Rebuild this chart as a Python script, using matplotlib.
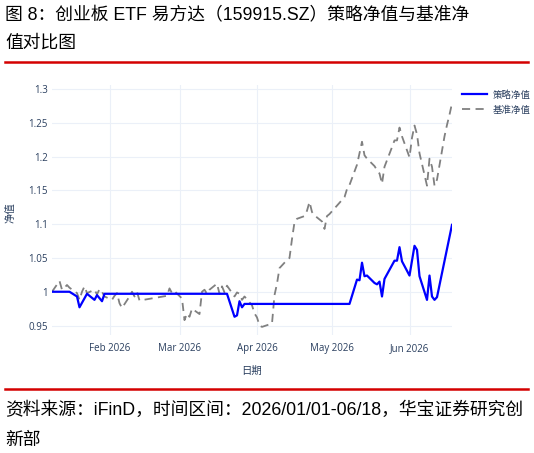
import numpy as np
import pandas as pd
import matplotlib
matplotlib.use("Agg")
from matplotlib import pyplot as plt
import matplotlib.dates as mdates

plt.rcParams['font.family'] = ['Open Sans', 'Noto Sans CJK SC', 'DejaVu Sans']

# strategy NAV (vertices)
strategy_dates = ["2026-01-09", "2026-01-16", "2026-01-19", "2026-01-20", "2026-01-23",
                  "2026-01-26", "2026-01-27", "2026-01-29", "2026-01-30", "2026-03-20",
                  "2026-03-23", "2026-03-24", "2026-03-25", "2026-03-26", "2026-03-27",
                  "2026-05-08", "2026-05-11", "2026-05-12", "2026-05-13", "2026-05-14",
                  "2026-05-15", "2026-05-18", "2026-05-19", "2026-05-20", "2026-05-21",
                  "2026-05-22", "2026-05-26", "2026-05-27", "2026-05-28", "2026-05-29",
                  "2026-06-01", "2026-06-03", "2026-06-04", "2026-06-05", "2026-06-08",
                  "2026-06-09", "2026-06-10", "2026-06-11", "2026-06-12", "2026-06-18"]
strategy_nav = [1.000, 1.000, 0.993, 0.977, 0.997,
                0.988, 0.995, 0.986, 0.997, 0.997,
                0.963, 0.965, 0.986, 0.977, 0.982,
                0.982, 1.018, 1.017, 1.043, 1.023,
                1.024, 1.013, 1.011, 1.015, 0.993,
                1.019, 1.046, 1.046, 1.066, 1.045,
                1.024, 1.068, 1.062, 1.023, 0.988,
                1.024, 0.993, 0.988, 0.992, 1.099]

# benchmark NAV
bench_dates = ["2026-01-09", "2026-01-12", "2026-01-13", "2026-01-14", "2026-01-15",
               "2026-01-16", "2026-01-19", "2026-01-20", "2026-01-21", "2026-01-22",
               "2026-01-23", "2026-01-26", "2026-01-27", "2026-01-28", "2026-01-29",
               "2026-01-30", "2026-02-02", "2026-02-03", "2026-02-04", "2026-02-05",
               "2026-02-06", "2026-02-09", "2026-02-10", "2026-02-11", "2026-02-12",
               "2026-02-13", "2026-02-24", "2026-02-25", "2026-02-26", "2026-02-27",
               "2026-03-02", "2026-03-03", "2026-03-04", "2026-03-05", "2026-03-06",
               "2026-03-09", "2026-03-10", "2026-03-11", "2026-03-12", "2026-03-13",
               "2026-03-16", "2026-03-17", "2026-03-18", "2026-03-19", "2026-03-20",
               "2026-03-23", "2026-03-24", "2026-03-25", "2026-03-26", "2026-03-27",
               "2026-03-30", "2026-03-31", "2026-04-01", "2026-04-02", "2026-04-03",
               "2026-04-07", "2026-04-08", "2026-04-09", "2026-04-10", "2026-04-13",
               "2026-04-14", "2026-04-15", "2026-04-16", "2026-04-17", "2026-04-20",
               "2026-04-21", "2026-04-22", "2026-04-23", "2026-04-24", "2026-04-27",
               "2026-04-28", "2026-04-29", "2026-04-30", "2026-05-06", "2026-05-07",
               "2026-05-08", "2026-05-11", "2026-05-12", "2026-05-13", "2026-05-14",
               "2026-05-15", "2026-05-18", "2026-05-19", "2026-05-20", "2026-05-21",
               "2026-05-22", "2026-05-25", "2026-05-26", "2026-05-27", "2026-05-28",
               "2026-05-29", "2026-06-01", "2026-06-02", "2026-06-03", "2026-06-04",
               "2026-06-05", "2026-06-08", "2026-06-09", "2026-06-10", "2026-06-11",
               "2026-06-12", "2026-06-15", "2026-06-16", "2026-06-17", "2026-06-18"]
bench_nav = [1.000, 1.016, 1.003, 1.006, 1.010,
             1.006, 0.998, 0.988, 1.000, 1.008,
             0.998, 1.003, 0.996, 1.004, 1.000,
             0.993, 0.988, 0.994, 0.998, 0.983,
             0.976, 0.993, 1.000, 0.993, 1.000,
             0.987, 0.994, 1.005, 0.998, 1.001,
             0.990, 0.958, 0.968, 0.963, 0.975,
             0.967, 1.000, 1.003, 0.997, 1.003,
             1.012, 0.997, 1.008, 0.999, 1.009,
             0.993, 0.999, 0.997, 0.988, 0.993,
             0.980, 0.968, 0.962, 0.950, 0.948,
             0.953, 0.995, 1.012, 1.035, 1.047,
             1.050, 1.078, 1.103, 1.108, 1.112,
             1.120, 1.133, 1.118, 1.113, 1.104,
             1.093, 1.112, 1.115, 1.140, 1.152,
             1.158, 1.188, 1.205, 1.222, 1.202,
             1.197, 1.186, 1.180, 1.175, 1.160,
             1.185, 1.214, 1.224, 1.224, 1.243,
             1.230, 1.199, 1.228, 1.246, 1.233,
             1.205, 1.157, 1.197, 1.185, 1.157,
             1.166, 1.230, 1.247, 1.262, 1.279]

y_ticks = [0.95, 1.0, 1.05, 1.1, 1.15, 1.2, 1.25, 1.3]
y_tick_labels = ["0.95", "1", "1.05", "1.1", "1.15", "1.2", "1.25", "1.3"]
x_ticks = ["2026-02-01", "2026-03-01", "2026-04-01", "2026-05-01", "2026-06-01"]
x_tick_labels = ["Feb 2026", "Mar 2026", "Apr 2026", "May 2026", "Jun 2026"]

title_lines = ["图 8：创业板 ETF 易方达（159915.SZ）策略净值与基准净", "值对比图"]
source_lines = ["资料来源：iFinD，时间区间：2026/01/01-06/18，华宝证券研究创", "新部"]

W, H = 534, 453
fig = plt.figure(figsize=(W / 100, H / 100), dpi=100)
ax = fig.add_axes([52 / W, 1 - 335 / H, 400 / W, 250 / H])

sd = pd.to_datetime(strategy_dates)
bd = pd.to_datetime(bench_dates)
ax.plot(sd, strategy_nav, color='#0000ff', lw=1.6, label='策略净值', zorder=3)
ax.plot(bd, bench_nav, color='#808080', lw=1.3, dashes=(4.5, 3), label='基准净值', zorder=2)

ax.set_xlim(sd[0], sd[-1])
ax.set_ylim(0.936, 1.306)
ax.set_yticks(y_ticks)
ax.set_yticklabels(y_tick_labels)
ax.set_xticks(pd.to_datetime(x_ticks))
ax.set_xticklabels(x_tick_labels)
ax.tick_params(length=0, labelsize=7, labelcolor='#2a3f5f')
ax.tick_params(axis='y', pad=3)
ax.tick_params(axis='x', pad=6)
ax.grid(color='#ebf0f8', lw=0.8)
ax.set_axisbelow(True)
for s in ax.spines.values():
    s.set_visible(False)

ax.set_ylabel('净值', fontsize=7.5, color='#2a3f5f')
ax.yaxis.set_label_coords((16 - 52) / 400, (335 - 213) / 250)
ax.set_xlabel('日期', fontsize=7.5, color='#2a3f5f', labelpad=8)

ax.legend(loc='upper left', bbox_to_anchor=(462 / W, 1 - 90 / H), bbox_transform=fig.transFigure,
          frameon=False, fontsize=6.8, handlelength=2.6, handletextpad=0.6, labelspacing=0.6,
          labelcolor='#2a3f5f', borderaxespad=0, borderpad=0)

tfont = ['Liberation Sans', 'Noto Sans CJK SC']
fig.text(5 / W, 1 - 16 / H, title_lines[0], fontsize=12.8, family=tfont, va='center', ha='left')
fig.text(5 / W, 1 - 43 / H, title_lines[1], fontsize=12.8, family=tfont, va='center', ha='left')
fig.text(5 / W, 1 - 410 / H, source_lines[0], fontsize=12.8, family=tfont, va='center', ha='left')
fig.text(5 / W, 1 - 440 / H, source_lines[1], fontsize=12.8, family=tfont, va='center', ha='left')

for yy in [62, 389]:
    fig.add_artist(plt.Line2D([5 / W, 528 / W], [1 - yy / H, 1 - yy / H], color='#d40000', lw=1.8))

fig.savefig('out.png', dpi=100)
